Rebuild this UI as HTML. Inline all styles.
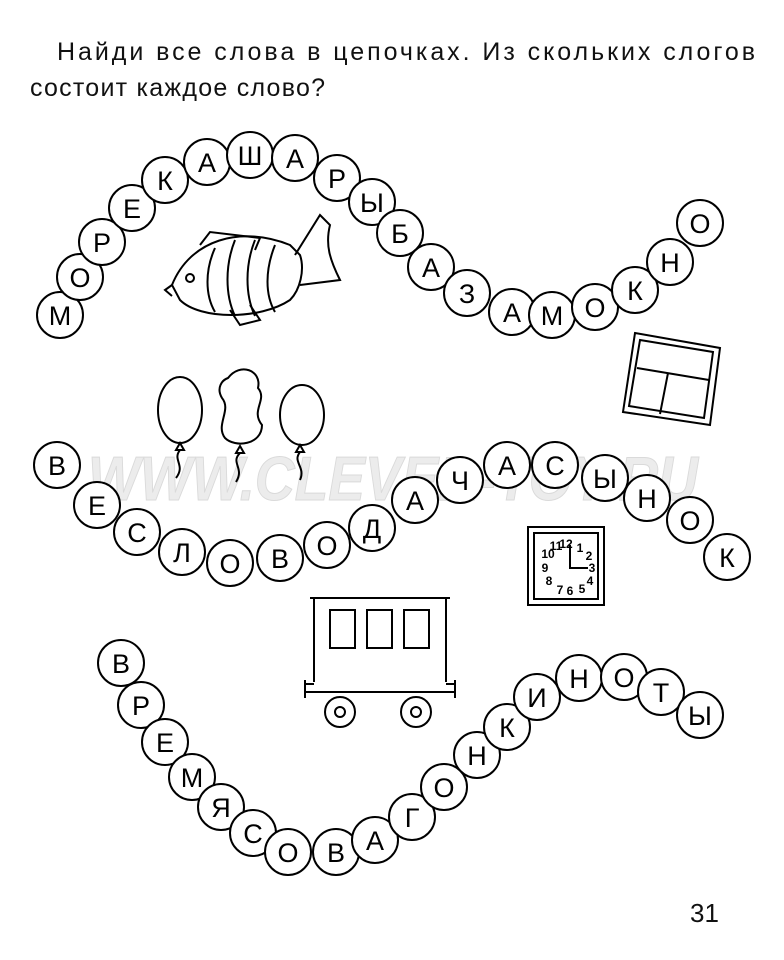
<!DOCTYPE html>
<html><head><meta charset="utf-8"><style>
body{margin:0;background:#fff;}
svg{display:block;}
</style></head><body>
<svg width="784" height="960" viewBox="0 0 784 960" xmlns="http://www.w3.org/2000/svg" font-family="Liberation Sans, DejaVu Sans, sans-serif">
<rect width="784" height="960" fill="#fff"/>
<text x="57" y="60" font-size="25" fill="#111" textLength="698" lengthAdjust="spacing">Найди все слова в цепочках. Из скольких слогов</text>
<text x="30" y="96" font-size="25" fill="#111" textLength="295" lengthAdjust="spacing">состоит каждое слово?</text>
<text x="690" y="922" font-size="26" fill="#111">31</text>
<text x="88" y="500" font-size="62" font-weight="bold" font-style="italic" fill="#ececec" stroke="#dadada" stroke-width="1" textLength="610" lengthAdjust="spacingAndGlyphs">WWW.CLEVER-TOY.RU</text>

<g fill="none" stroke="#000" stroke-width="2">
<path d="M172,285 C190,240 240,225 290,245 L300,255 C305,270 300,290 290,300 C260,320 200,320 180,300 Z"/>
<path d="M200,245 L210,232 L260,238 L255,250"/>
<path d="M295,255 L320,215 L330,225 C325,245 330,260 340,280 L300,285"/>
<path d="M230,310 L240,325 L260,320 L250,305"/>
<path d="M215,248 C205,270 205,295 215,312 M235,240 C225,265 225,295 235,316 M255,240 C245,265 245,295 255,316 M275,245 C265,270 265,295 275,312"/>
<circle cx="190" cy="278" r="4"/>
<path d="M172,285 L165,290 L172,296"/>
<ellipse cx="180" cy="410" rx="22" ry="33"/>
<path d="M180,443 L176,450 L184,450 Z M180,450 C172,460 186,465 176,478"/>
<path d="M228,378 C240,362 262,370 258,388 C268,400 250,410 262,425 C262,445 235,448 225,438 C215,425 232,410 222,398 C216,388 222,380 228,378 Z"/>
<path d="M240,446 L236,453 L244,453 Z M240,453 C230,463 245,468 236,482"/>
<ellipse cx="302" cy="415" rx="22" ry="30"/>
<path d="M300,445 L296,452 L304,452 Z M300,452 C292,462 306,467 300,480"/>
<polygon points="635,333 720,348 710,425 623,412"/>
<polygon points="640,340 713,352 704,418 629,406"/>
<path d="M637,368 L709,380 M668,373 L660,414"/>
<rect x="528" y="527" width="76" height="78"/>
<rect x="534" y="533" width="64" height="66"/>
<path d="M570,545 L570,568 L588,568"/>
<path d="M314,682 L314,598 L446,598 L446,682"/>
<path d="M310,598 L450,598"/>
<rect x="330" y="610" width="25" height="38"/>
<rect x="367" y="610" width="25" height="38"/>
<rect x="404" y="610" width="25" height="38"/>
<path d="M305,692 L455,692 M305,680 L305,698 M455,680 L455,698 M305,684 L314,684 M446,684 L455,684"/>
<circle cx="340" cy="712" r="15"/><circle cx="340" cy="712" r="5"/>
<circle cx="416" cy="712" r="15"/><circle cx="416" cy="712" r="5"/>
</g>
<g font-size="12" font-weight="bold" fill="#000" text-anchor="middle">
<text x="566" y="548">12</text><text x="556" y="550">11</text><text x="548" y="558">10</text><text x="580" y="552">1</text><text x="589" y="560">2</text><text x="592" y="572">3</text><text x="590" y="585">4</text><text x="582" y="593">5</text><text x="570" y="595">6</text><text x="560" y="594">7</text><text x="549" y="585">8</text><text x="545" y="572">9</text>
</g>

<g fill="#fff" stroke="#000" stroke-width="2">
<circle cx="60" cy="315" r="23"/><circle cx="80" cy="277" r="23"/><circle cx="102" cy="242" r="23"/><circle cx="132" cy="208" r="23"/><circle cx="165" cy="180" r="23"/><circle cx="207" cy="162" r="23"/><circle cx="250" cy="155" r="23"/><circle cx="295" cy="158" r="23"/><circle cx="337" cy="178" r="23"/><circle cx="372" cy="202" r="23"/><circle cx="400" cy="233" r="23"/><circle cx="431" cy="267" r="23"/><circle cx="467" cy="293" r="23"/><circle cx="512" cy="312" r="23"/><circle cx="552" cy="315" r="23"/><circle cx="595" cy="307" r="23"/><circle cx="635" cy="290" r="23"/><circle cx="670" cy="262" r="23"/><circle cx="700" cy="223" r="23"/>
<circle cx="57" cy="465" r="23"/><circle cx="97" cy="505" r="23"/><circle cx="137" cy="532" r="23"/><circle cx="182" cy="552" r="23"/><circle cx="230" cy="563" r="23"/><circle cx="280" cy="558" r="23"/><circle cx="327" cy="545" r="23"/><circle cx="372" cy="528" r="23"/><circle cx="415" cy="500" r="23"/><circle cx="460" cy="480" r="23"/><circle cx="507" cy="465" r="23"/><circle cx="555" cy="465" r="23"/><circle cx="605" cy="478" r="23"/><circle cx="647" cy="498" r="23"/><circle cx="690" cy="520" r="23"/><circle cx="727" cy="557" r="23"/>
<circle cx="121" cy="663" r="23"/><circle cx="141" cy="705" r="23"/><circle cx="165" cy="742" r="23"/><circle cx="192" cy="777" r="23"/><circle cx="221" cy="807" r="23"/><circle cx="253" cy="833" r="23"/><circle cx="288" cy="852" r="23"/><circle cx="336" cy="852" r="23"/><circle cx="375" cy="840" r="23"/><circle cx="412" cy="817" r="23"/><circle cx="444" cy="787" r="23"/><circle cx="477" cy="755" r="23"/><circle cx="507" cy="727" r="23"/><circle cx="537" cy="697" r="23"/><circle cx="579" cy="678" r="23"/><circle cx="624" cy="677" r="23"/><circle cx="661" cy="692" r="23"/><circle cx="700" cy="715" r="23"/>
</g>
<g font-size="27" text-anchor="middle" fill="#000" transform="translate(0,1)">
<text x="60" y="324">М</text><text x="80" y="286">О</text><text x="102" y="251">Р</text><text x="132" y="217">Е</text><text x="165" y="189">К</text><text x="207" y="171">А</text><text x="250" y="164">Ш</text><text x="295" y="167">А</text><text x="337" y="187">Р</text><text x="372" y="211">Ы</text><text x="400" y="242">Б</text><text x="431" y="276">А</text><text x="467" y="302">З</text><text x="512" y="321">А</text><text x="552" y="324">М</text><text x="595" y="316">О</text><text x="635" y="299">К</text><text x="670" y="271">Н</text><text x="700" y="232">О</text>
<text x="57" y="474">В</text><text x="97" y="514">Е</text><text x="137" y="541">С</text><text x="182" y="561">Л</text><text x="230" y="572">О</text><text x="280" y="567">В</text><text x="327" y="554">О</text><text x="372" y="537">Д</text><text x="415" y="509">А</text><text x="460" y="489">Ч</text><text x="507" y="474">А</text><text x="555" y="474">С</text><text x="605" y="487">Ы</text><text x="647" y="507">Н</text><text x="690" y="529">О</text><text x="727" y="566">К</text>
<text x="121" y="672">В</text><text x="141" y="714">Р</text><text x="165" y="751">Е</text><text x="192" y="786">М</text><text x="221" y="816">Я</text><text x="253" y="842">С</text><text x="288" y="861">О</text><text x="336" y="861">В</text><text x="375" y="849">А</text><text x="412" y="826">Г</text><text x="444" y="796">О</text><text x="477" y="764">Н</text><text x="507" y="736">К</text><text x="537" y="706">И</text><text x="579" y="687">Н</text><text x="624" y="686">О</text><text x="661" y="701">Т</text><text x="700" y="724">Ы</text>
</g>
</svg>
</body></html>
